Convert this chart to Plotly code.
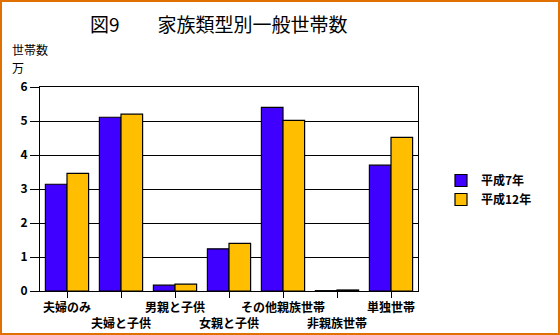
import plotly.graph_objects as go

# 家族類型別一般世帯数（万世帯）
categories = ["夫婦のみ", "夫婦と子供", "男親と子供", "女親と子供",
              "その他親族世帯", "非親族世帯", "単独世帯"]
h7 = [3.14, 5.11, 0.17, 1.24, 5.40, 0.01, 3.70]
h12 = [3.46, 5.20, 0.20, 1.40, 5.02, 0.03, 4.52]
series_names = ["平成7年", "平成12年"]
y_ticks = [0, 1, 2, 3, 4, 5, 6]

FONT = "Noto Sans CJK JP"
W, H = 560, 335
L, R, T, B = 40, 142, 87, 44
pw, ph = W - L - R, H - T - B

# alternate category labels between two rows
ticktext = [c if i % 2 == 0 else "<br>" + c for i, c in enumerate(categories)]

fig = go.Figure()
fig.add_trace(go.Bar(
    x=list(range(len(categories))), y=h7, name=series_names[0],
    marker=dict(color="#0000FF", line=dict(color="black", width=1.2),
                pattern=dict(shape="-", fgcolor="#FF00FF", size=2, solidity=0.5,
                             fillmode="overlay")),
))
fig.add_trace(go.Bar(
    x=list(range(len(categories))), y=h12, name=series_names[1],
    marker=dict(color="#FFFF00", line=dict(color="black", width=1.2),
                pattern=dict(shape="|", fgcolor="#FF0000", size=2, solidity=0.5,
                             fillmode="overlay")),
))

fig.update_layout(
    width=W, height=H,
    margin=dict(l=L, r=R, t=T, b=B, autoexpand=False),
    paper_bgcolor="white", plot_bgcolor="white",
    barmode="group", bargap=0.2, bargroupgap=0,
    font=dict(family=FONT, size=12, color="black"),
    showlegend=True,
    legend=dict(x=(441 - L) / pw, y=1 - (166 - T) / ph, xanchor="left", yanchor="top",
                font=dict(family=FONT, size=12, color="black", weight="bold"),
                itemwidth=30, tracegroupgap=0, bgcolor="rgba(0,0,0,0)"),
    xaxis=dict(range=[-0.5, len(categories) - 0.5], tickmode="array",
               tickvals=list(range(len(categories))), ticktext=ticktext,
               ticks="outside", ticklen=6, tickcolor="black", tickwidth=1,
               showline=True, linecolor="black", linewidth=1, mirror=True,
               showgrid=False, tickangle=0, automargin=False,
               tickfont=dict(family=FONT, size=12, weight="bold")),
    yaxis=dict(range=[0, 6], tickmode="array", tickvals=y_ticks,
               ticks="outside", ticklen=9, tickcolor="black", tickwidth=1,
               showline=True, linecolor="black", linewidth=1, mirror=True,
               showgrid=True, gridcolor="black", gridwidth=1, zeroline=False,
               automargin=False,
               tickfont=dict(family=FONT, size=12, weight="bold")),
)

fig.add_annotation(text="図9　　家族類型別一般世帯数", xref="paper", yref="paper",
                   x=(88 - L) / pw, y=1 + (T - 23) / ph, xanchor="left", yanchor="middle",
                   showarrow=False, font=dict(family=FONT, size=19, color="black"))
fig.add_annotation(text="世帯数", xref="paper", yref="paper",
                   x=(10 - L) / pw, y=1 + (T - 50) / ph, xanchor="left", yanchor="middle",
                   showarrow=False, font=dict(family=FONT, size=12, color="black"))
fig.add_annotation(text="万", xref="paper", yref="paper",
                   x=(10 - L) / pw, y=1 + (T - 68) / ph, xanchor="left", yanchor="middle",
                   showarrow=False, font=dict(family=FONT, size=12, color="black"))

# orange frame around the whole figure
fig.add_shape(type="rect", xref="paper", yref="paper",
              x0=-(L - 1) / pw, x1=1 + (R - 1) / pw,
              y0=-(B - 1) / ph, y1=1 + (T - 1) / ph,
              line=dict(color="#E07000", width=2), layer="above")

fig.write_html("out.html")
